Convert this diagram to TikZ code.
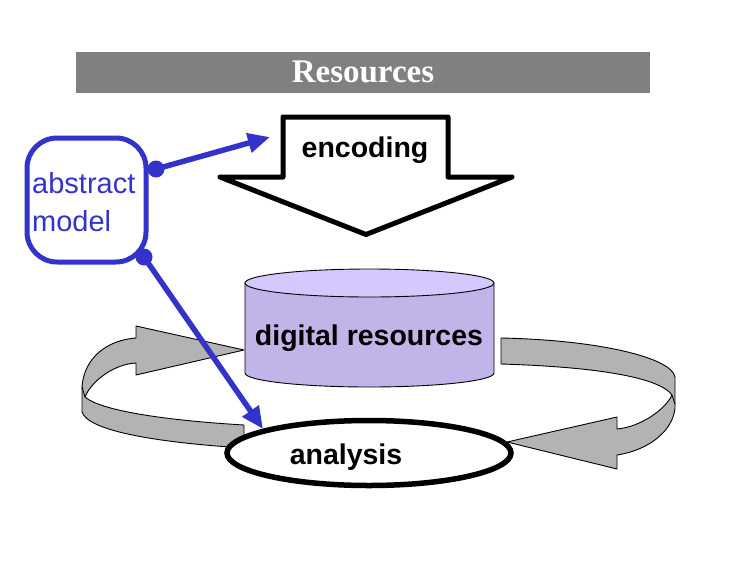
\documentclass[tikz,border=0pt]{standalone}
\usepackage{fontspec}
\setmainfont{Liberation Sans}
\newfontfamily\titlefont{Liberation Serif}
\usetikzlibrary{arrows.meta,shapes.geometric}
\definecolor{bluem}{HTML}{3333CC}
\definecolor{titlegray}{HTML}{808080}
\definecolor{ribbongray}{HTML}{B3B3B3}
\definecolor{cyltop}{HTML}{D4C8FF}
\definecolor{cylbody}{HTML}{C0B4E8}
\tikzset{
  ribbon/.style={fill=ribbongray, draw=black, line width=0.9pt, line join=round},
  lbl/.style={font=\bfseries\fontsize{28.5}{34}\selectfont, inner sep=0pt},
  bluelink/.style={draw=bluem, line width=5.5pt, -{Triangle[length=22pt,width=19pt]}},
  bluedot/.style={fill=bluem},
}
\begin{document}
\begin{tikzpicture}[x=1pt,y=-1pt]
\useasboundingbox (0,0) rectangle (750,563);
% title bar
\fill[titlegray] (76,52) rectangle (650,93);
\node[text=white, inner sep=0pt, anchor=base, font=\titlefont\bfseries\fontsize{33}{36}\selectfont] (title) at (363,82) {Resources};
% left ribbon arrow
\draw[ribbon] (244,350) -- (136,326) -- (136,338)
  .. controls (108,340) and (84,357) .. (82,387) -- (82,412)
  .. controls (88,430) and (150,442) .. (244,448) -- (244,425)
  .. controls (160,420) and (100,410) .. (85,397)
  .. controls (92,380) and (115,364) .. (136,363) -- (136,375) -- cycle;
\draw[line width=0.9pt] (82,387) -- (85,397);
% right ribbon arrow
\draw[ribbon] (501,338)
  .. controls (600,340) and (672,358) .. (675,377) -- (675,408)
  .. controls (673,430) and (650,450) .. (617,455) -- (617,469) -- (507,442) -- (617,417) -- (617,429)
  .. controls (640,427) and (665,410) .. (672,395)
  .. controls (660,378) and (600,367) .. (501,364) -- cycle;
\draw[line width=0.9pt] (672,395) -- (675,404);
% cylinder
\fill[cylbody, draw=black, line width=0.9pt] (245,283) -- (245,373) arc[start angle=180,end angle=0,x radius=124.5,y radius=14] -- (494,283) -- cycle;
\draw[fill=cyltop, line width=0.9pt] (369.5,283) ellipse[x radius=124.5, y radius=14];
\node[lbl, anchor=base] (digital) at (369,345) {digital resources};
% analysis ellipse
\node[ellipse, draw=black, fill=white, line width=5.5pt, minimum width=284pt, minimum height=65pt, inner sep=0pt] (analysisbox) at (369,453) {};
\node[lbl, anchor=base] (analysis) at (346,464) {analysis};
% encoding arrow
\draw[line width=5pt, line join=round, fill=white] (283,117) -- (448,117) -- (448,177) -- (512,177) -- (366,234.5) -- (220,177) -- (283,177) -- cycle;
\node[lbl, anchor=base] (encoding) at (365,157) {encoding};
% abstract model
\node[draw=bluem, line width=5pt, rounded corners=30pt, minimum width=119pt, minimum height=124pt, inner sep=0pt] (model) at (86.5,200) {};
\node[text=bluem, anchor=base west, align=left, inner sep=0pt, font=\fontsize{29}{38}\selectfont] (modeltext) at (32,231) {abstract\\model};
\coordinate (d1) at (156,169);
\coordinate (d2) at (144,257);
\coordinate (t1) at (270,137);
\coordinate (t2) at (263,429);
\draw[bluelink] (d1) -- (t1);
\draw[bluelink] (d2) -- (t2);
\fill[bluedot] (d1) circle (8.5pt);
\fill[bluedot] (d2) circle (8.5pt);
\end{tikzpicture}
\end{document}
